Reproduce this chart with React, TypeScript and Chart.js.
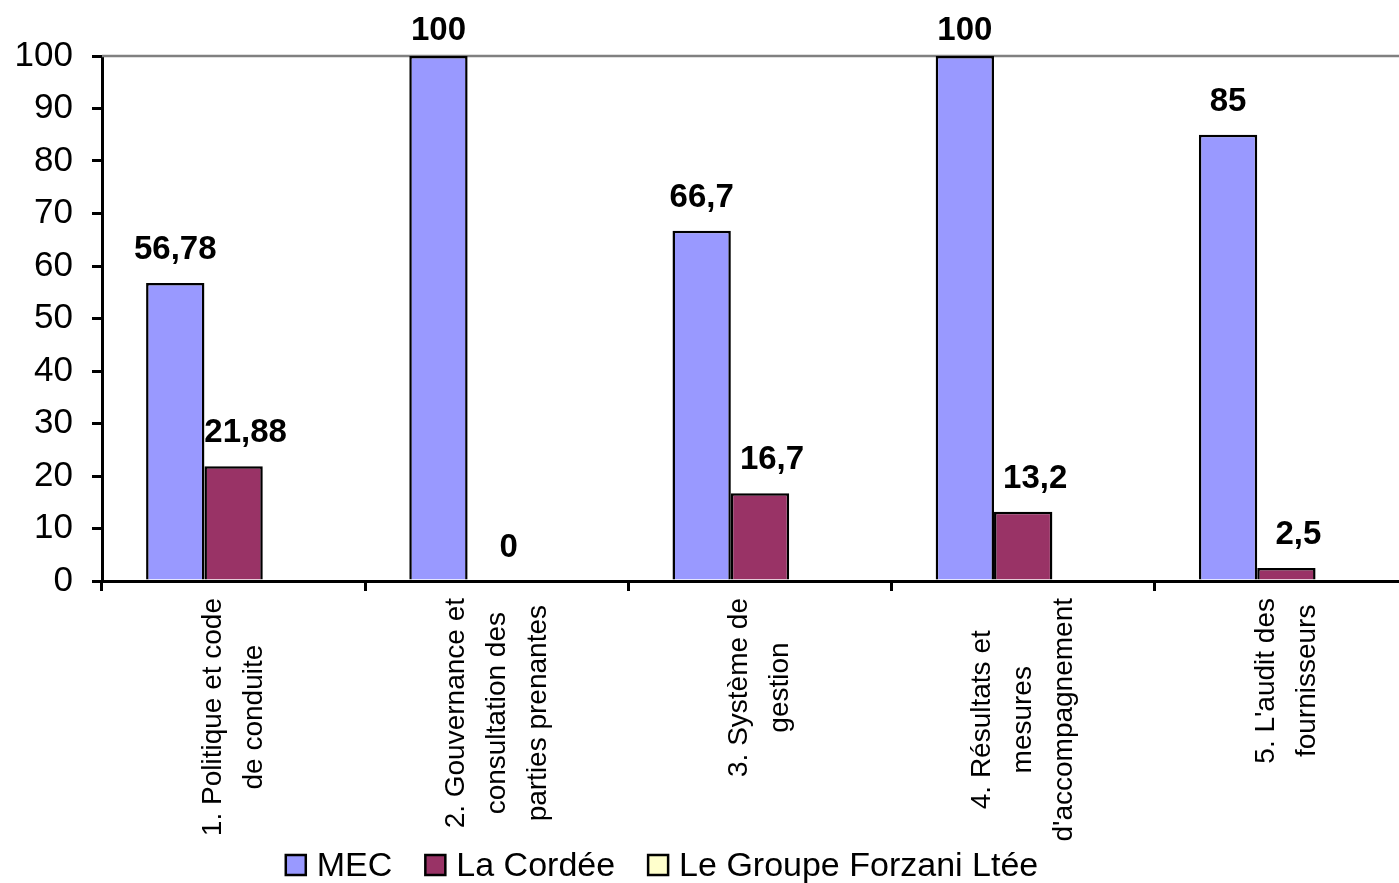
import React, { useEffect, useRef } from "react";
import { Chart, registerables } from "chart.js";

Chart.register(...registerables);

const categories: string[][] = [
  ["1. Politique et code", "de conduite"],
  ["2. Gouvernance et", "consultation des", "parties prenantes"],
  ["3. Système de", "gestion"],
  ["4. Résultats et", "mesures", "d'accompagnement"],
  ["5. L'audit des", "fournisseurs"],
];
const mecValues = [56.78, 100, 66.7, 100, 85];
const cordeeValues = [21.88, 0, 16.7, 13.2, 2.5];
const forzaniValues = [0, 0, 0, 0, 0];
const seriesNames = ["MEC", "La Cordée", "Le Groupe Forzani Ltée"];
const seriesColors = ["#9999FF", "#993366", "#FFFFCC"];
const yTicks = [0, 10, 20, 30, 40, 50, 60, 70, 80, 90, 100];

const FONT = "'Liberation Sans', Arial, sans-serif";
const CANVAS_W = 1440;
const CANVAS_H = 883;

const fmt = (v: number) => String(v).replace(".", ",");

const decorPlugin = {
  id: "decor",
  beforeDatasetsDraw(chart: any) {
    const { ctx, chartArea } = chart;
    ctx.save();
    ctx.strokeStyle = "#808080";
    ctx.lineWidth = 2.5;
    ctx.beginPath();
    ctx.moveTo(chartArea.left, chartArea.top);
    ctx.lineTo(chartArea.right, chartArea.top);
    ctx.lineTo(chartArea.right, chartArea.bottom);
    ctx.stroke();
    ctx.restore();
  },
  afterDraw(chart: any) {
    const { ctx, chartArea } = chart;
    const xScale = chart.scales.x;
    ctx.save();
    // data labels
    ctx.fillStyle = "#000";
    ctx.font = `bold 33px ${FONT}`;
    ctx.textAlign = "center";
    ctx.textBaseline = "alphabetic";
    [0, 1].forEach((di) => {
      const meta = chart.getDatasetMeta(di);
      const data = chart.data.datasets[di].data as number[];
      meta.data.forEach((el: any, i: number) => {
        const v = data[i];
        if (v === null || v === undefined) return;
        const yb = Math.max(el.y - 24, chartArea.top - 16);
        const dx = di === 1 ? 12 : 0;
        ctx.fillText(fmt(v), el.x + dx, yb);
      });
    });

    // category labels (rotated, lines centered)
    ctx.font = `28px ${FONT}`;
    ctx.textAlign = "center";
    ctx.textBaseline = "middle";
    const lineH = 41;
    categories.forEach((lines, i) => {
      const cx = xScale.getPixelForValue(i);
      const maxW = Math.max(...lines.map((l) => ctx.measureText(l).width));
      const cy = chartArea.bottom + 17 + maxW / 2;
      ctx.save();
      ctx.translate(cx, cy);
      ctx.rotate(-Math.PI / 2);
      lines.forEach((l, k) => {
        ctx.fillText(l, 0, (k - (lines.length - 1) / 2) * lineH);
      });
      ctx.restore();
    });

    // legend
    ctx.font = `34px ${FONT}`;
    ctx.textAlign = "left";
    ctx.textBaseline = "alphabetic";
    const box = 20;
    const gap = 11;
    const itemGap = 33;
    const items = chart.data.datasets.map((d: any) => ({
      label: d.label,
      color: d.backgroundColor,
      w: ctx.measureText(d.label).width,
    }));
    const total =
      items.reduce((s: number, it: any) => s + box + gap + it.w, 0) +
      itemGap * (items.length - 1);
    let x = 662 - total / 2;
    const baseY = 876;
    items.forEach((it: any) => {
      ctx.fillStyle = it.color;
      ctx.fillRect(x, 855, box, box);
      ctx.strokeStyle = "#000";
      ctx.lineWidth = 2.5;
      ctx.strokeRect(x, 855, box, box);
      ctx.fillStyle = "#000";
      ctx.fillText(it.label, x + box + gap, baseY);
      x += box + gap + it.w + itemGap;
    });
    ctx.restore();
  },
};

export default function App() {
  const ref = useRef<HTMLCanvasElement | null>(null);
  useEffect(() => {
    if (!ref.current) return;
    const chart = new Chart(ref.current, {
      type: "bar",
      data: {
        labels: categories.map((c) => c.join(" ")),
        datasets: [
          {
            label: seriesNames[0],
            data: mecValues,
            backgroundColor: seriesColors[0],
            borderColor: "#000",
            borderWidth: 2.5,
          },
          {
            label: seriesNames[1],
            data: cordeeValues,
            backgroundColor: seriesColors[1],
            borderColor: "#000",
            borderWidth: 2.5,
          },
          {
            label: seriesNames[2],
            data: forzaniValues,
            backgroundColor: seriesColors[2],
            borderColor: "#000",
            borderWidth: 2.5,
          },
        ],
      },
      options: {
        responsive: false,
        animation: false,
        layout: { padding: { top: 56, right: CANVAS_W - 1418, left: 0, bottom: 0 } },
        datasets: { bar: { categoryPercentage: 0.665, barPercentage: 1.0 } },
        plugins: {
          legend: { display: false },
          tooltip: { enabled: false },
        },
        scales: {
          x: {
            ticks: { display: false },
            grid: {
              offset: true,
              drawOnChartArea: false,
              drawTicks: true,
              tickLength: 10,
              color: "#000",
              lineWidth: 3,
            },
            border: { display: true, color: "#000", width: 3 },
            afterFit: (s: any) => {
              s.height = 302;
            },
          },
          y: {
            min: 0,
            max: 100,
            afterBuildTicks: (s: any) => {
              s.ticks = yTicks.map((v) => ({ value: v }));
            },
            ticks: {
              color: "#000",
              font: { family: FONT, size: 35 },
              padding: 19,
            },
            grid: {
              drawOnChartArea: false,
              drawTicks: true,
              tickLength: 10,
              color: "#000",
              lineWidth: 3,
            },
            border: { display: true, color: "#000", width: 3 },
            afterFit: (s: any) => {
              s.width = 102;
            },
          },
        },
      },
      plugins: [decorPlugin],
    });
    return () => chart.destroy();
  }, []);
  return (
    <div
      style={{
        position: "fixed",
        left: 0,
        top: 0,
        width: 1399,
        height: 883,
        overflow: "hidden",
        background: "#fff",
      }}
    >
      <canvas
        ref={ref}
        width={CANVAS_W}
        height={CANVAS_H}
        style={{ width: CANVAS_W, height: CANVAS_H, display: "block" }}
      />
    </div>
  );
}
